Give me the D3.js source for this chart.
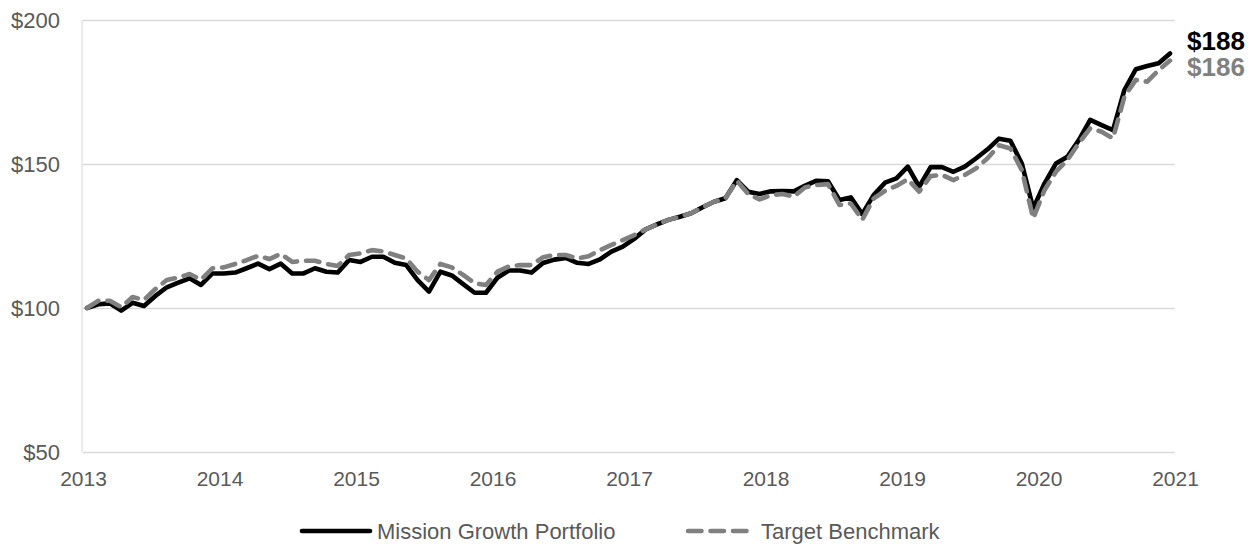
<!DOCTYPE html>
<html>
<head>
<meta charset="utf-8">
<script src="https://cdn.jsdelivr.net/npm/d3@7"></script>
<style>
    body { margin: 0; background: #fff; }
    text { font-family: "Liberation Sans", Arial, sans-serif; }
</style>
</head>
<body>
<svg id="chart" width="1256" height="544"></svg>
<script>
/** growth of $100, one value per month */
var portfolio = [
    100, 101.3, 101.6, 99.1, 101.8, 100.7, 104.2, 107.2, 108.8, 110.3, 108, 112,
    112, 112.3, 113.8, 115.4, 113.5, 115.4, 112, 112, 113.8, 112.6, 112.3, 116.7,
    116, 117.8, 117.8, 115.7, 114.9, 109.7, 105.7, 112.6, 111.3, 108.3, 105.3, 105.3,
    110.5, 113, 113, 112.3, 115.6, 116.8, 117.4, 115.7, 115.3, 116.9, 119.6, 121.3,
    124, 127.3, 129, 130.6, 131.7, 132.9, 135, 136.9, 138.1, 144.4, 140.4, 139.6,
    140.5, 140.6, 140.5, 142.5, 144.2, 144, 137.5, 138.4, 132.6, 139.2, 143.5, 145,
    149.1, 142.1, 148.9, 148.9, 147.3, 149.1, 152, 155.1, 158.8, 158.1, 150.2, 134.6,
    143.3, 150.2, 152.5, 158.3, 165.3, 163.5, 161.8, 175.7, 182.9, 184, 185, 188.4
];
var benchmark = [
    100, 102.5, 102.5, 100.3, 103.8, 102.8, 106.6, 109.7, 110.6, 111.8, 109.8, 113.8,
    114.1, 115.3, 116.6, 118.1, 117, 118.8, 116, 116.4, 116.4, 115.3, 114.6, 118.4,
    119, 120.1, 119.6, 118.4, 117.2, 112.6, 109.7, 115.3, 114.1, 111.5, 108.6, 108,
    112.6, 114.4, 114.9, 114.9, 117.6, 118.4, 118.4, 117.2, 118, 120.1, 121.9, 123.6,
    125.3, 127.3, 129, 130.6, 131.7, 132.9, 135, 136.9, 138.1, 144.2, 139.6, 137.7,
    139.2, 139.6, 138.7, 141.9, 142.7, 143, 135.8, 136.3, 130.6, 138, 140.7, 142.4,
    144.7, 140.4, 145.8, 146.2, 144.4, 146.2, 148.5, 152, 156.5, 155.4, 147.9, 131.1,
    141, 147.3, 151.4, 157.2, 162.4, 161.2, 158.9, 173.4, 179.2, 178.6, 182.6, 185.9
];
var yearLabels = [2013, 2014, 2015, 2016, 2017, 2018, 2019, 2020, 2021];
var yTicks = [50, 100, 150, 200];
var seriesNames = ["Mission Growth Portfolio", "Target Benchmark"];
var endLabels = ["$188", "$186"];

var svg = d3.select("#chart"),
    plotLeft = 83, plotRight = 1175, plotTop = 20, plotBottom = 452;

var xYear = d3.scaleLinear().domain([2013, 2021]).range([plotLeft, plotRight]);
var xIdx = d3.scaleLinear().domain([0, portfolio.length - 1]).range([87, 1170]);
var y = d3.scaleLinear().domain([50, 200]).range([plotBottom, plotTop]);

/** gridlines + y labels */
var gy = svg.append("g")
    .attr("transform", "translate(" + plotLeft + ",0)")
    .call(d3.axisLeft(y).tickValues(yTicks).tickSize(-(plotRight - plotLeft)).tickPadding(23)
        .tickFormat(function(d) { return "$" + d; }));
gy.select(".domain").remove();
gy.selectAll("line").attr("stroke", "#d9d9d9").attr("stroke-width", 1.3);
gy.selectAll("text").attr("fill", "#595959").style("font-size", "22px")
    .style("font-family", "Liberation Sans, Arial, sans-serif");

svg.append("line")
    .attr("x1", plotLeft - 1).attr("x2", plotLeft - 1)
    .attr("y1", plotTop).attr("y2", plotBottom)
    .attr("stroke", "#e4e1da").attr("stroke-width", 1.3);

/** x axis */
var gx = svg.append("g")
    .attr("transform", "translate(0," + plotBottom + ")")
    .call(d3.axisBottom(xYear).tickValues(yearLabels).tickSize(0).tickPadding(19)
        .tickFormat(d3.format("d")));
gx.select(".domain").remove();
gx.selectAll("text").attr("fill", "#595959").style("font-size", "21px")
    .style("font-family", "Liberation Sans, Arial, sans-serif");

/** lines */
var line = d3.line()
    .x(function(d, i) { return xIdx(i); })
    .y(function(d) { return y(d); });

svg.append("path").datum(portfolio)
    .attr("d", line)
    .attr("fill", "none").attr("stroke", "#000")
    .attr("stroke-width", 4.6).attr("stroke-linejoin", "round").attr("stroke-linecap", "round");

svg.append("path").datum(benchmark)
    .attr("d", line)
    .attr("fill", "none").attr("stroke", "#808080")
    .attr("stroke-width", 4.6).attr("stroke-linejoin", "round").attr("stroke-linecap", "round")
    .attr("stroke-dasharray", "13.5 9");

/** end value labels */
var lastX = xIdx(portfolio.length - 1);
svg.append("text").attr("x", lastX + 17).attr("y", 50)
    .attr("fill", "#000").style("font-weight", "bold").style("font-size", "26px")
    .text(endLabels[0]);
svg.append("text").attr("x", lastX + 17).attr("y", 76)
    .attr("fill", "#808080").style("font-weight", "bold").style("font-size", "26px")
    .text(endLabels[1]);

/** legend */
var legend = svg.append("g");
legend.append("line").attr("x1", 302).attr("x2", 370).attr("y1", 531).attr("y2", 531)
    .attr("stroke", "#000").attr("stroke-width", 4.6).attr("stroke-linecap", "round");
legend.append("text").attr("x", 377).attr("y", 531).attr("dy", "0.35em")
    .attr("fill", "#595959").style("font-size", "22px").text(seriesNames[0]);
legend.append("line").attr("x1", 688).attr("x2", 752).attr("y1", 531).attr("y2", 531)
    .attr("stroke", "#808080").attr("stroke-width", 4.6).attr("stroke-linecap", "round")
    .attr("stroke-dasharray", "13.5 9");
legend.append("text").attr("x", 761).attr("y", 531).attr("dy", "0.35em")
    .attr("fill", "#595959").style("font-size", "22px").text(seriesNames[1]);
</script>
</body>
</html>
